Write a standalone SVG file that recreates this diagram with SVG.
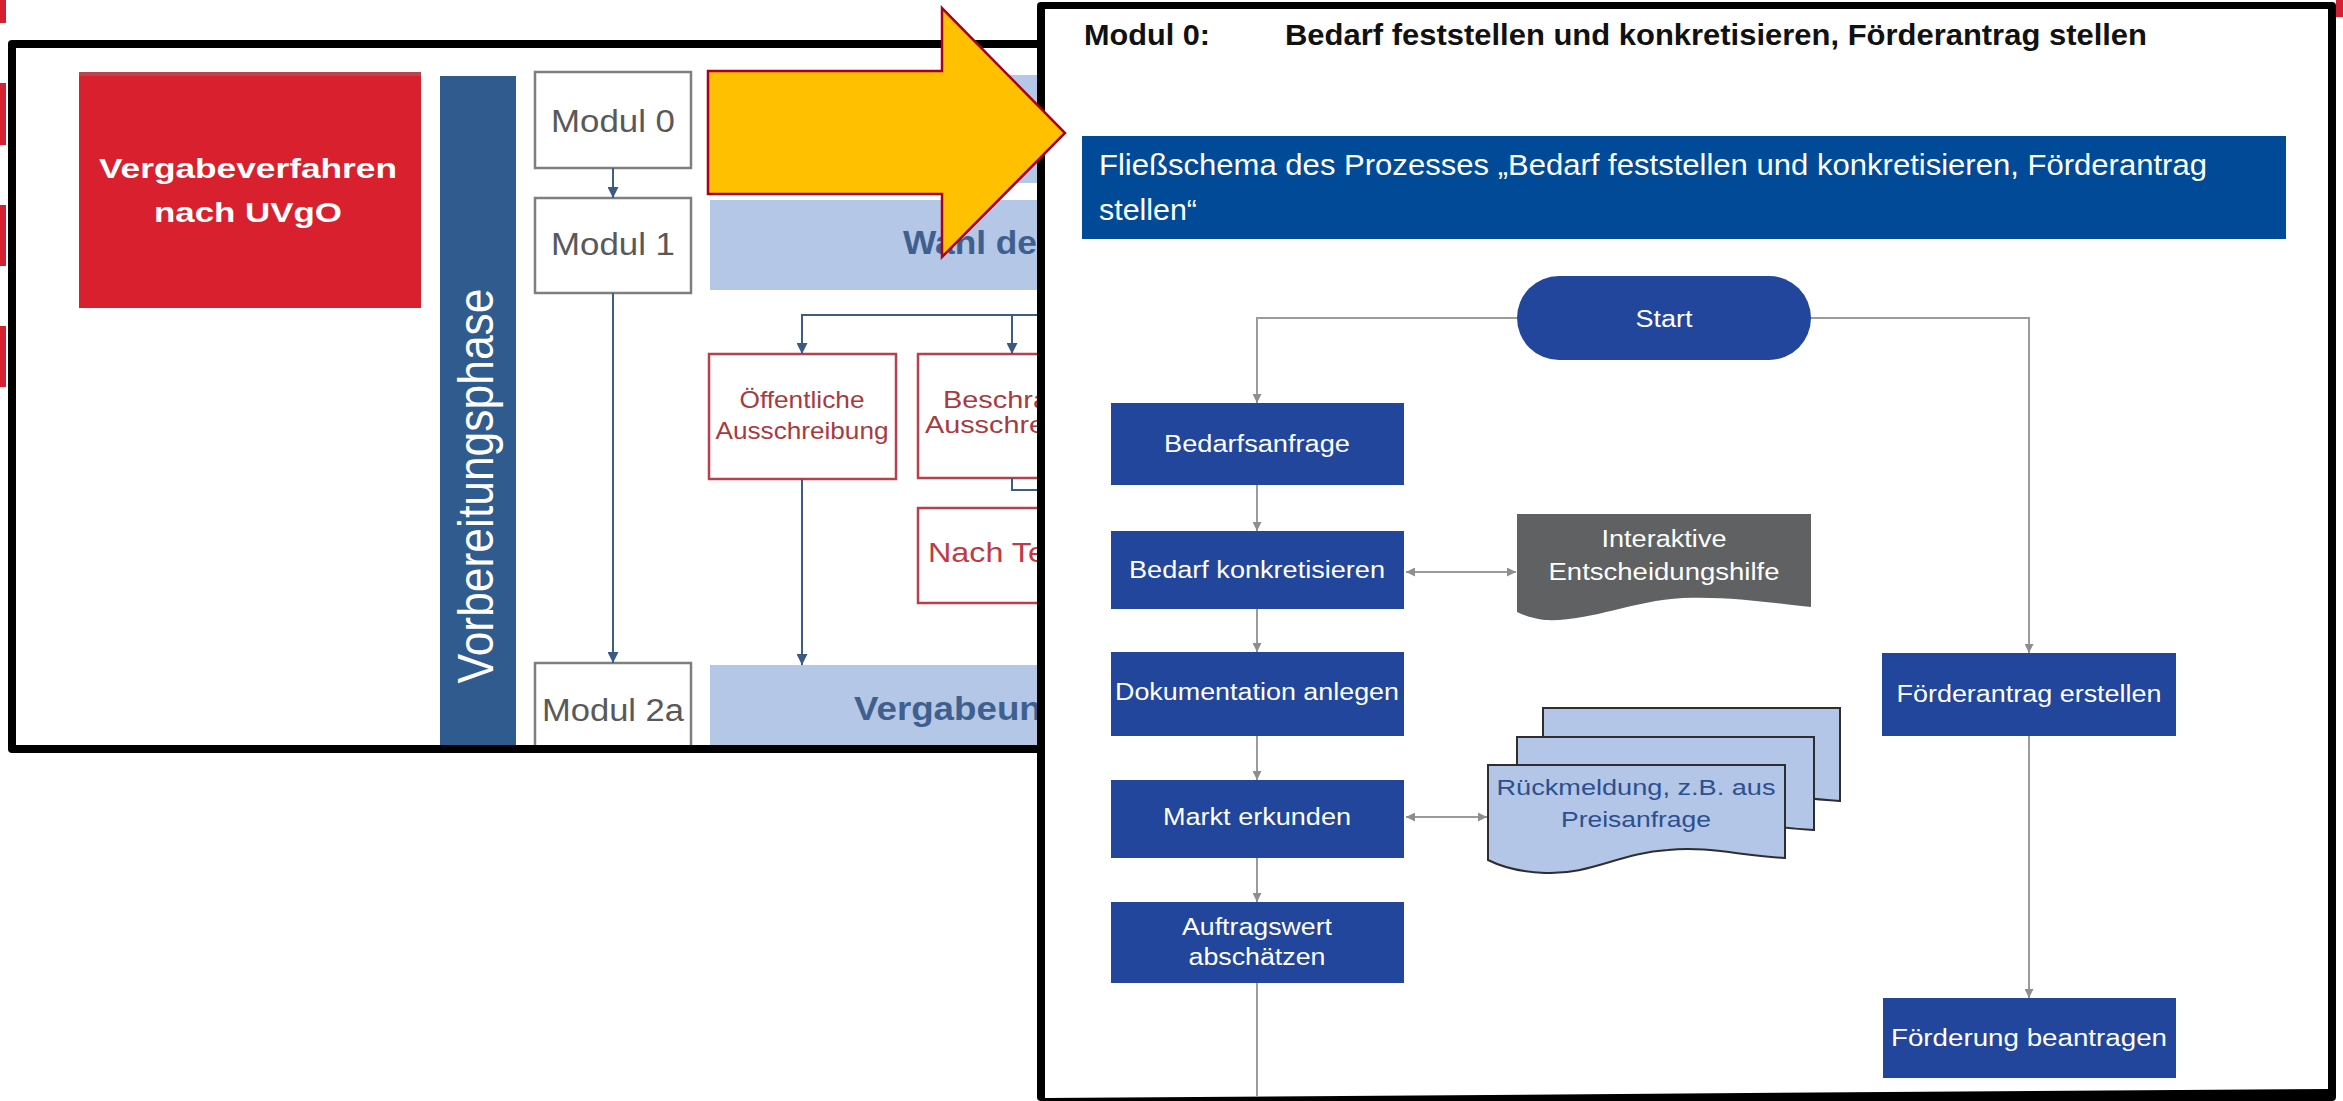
<svg xmlns="http://www.w3.org/2000/svg" width="2343" height="1101" viewBox="0 0 2343 1101">
  <style>
    text { font-family: "Liberation Sans", Arial, sans-serif; }
    .lbar { fill: #b4c7e7; }
    .modbox { fill: #ffffff; stroke: #7f7f7f; stroke-width: 2.5; }
    .modtxt { fill: #595959; font-size: 31px; text-anchor: middle; }
    .redbox { fill: #ffffff; stroke: #b8404c; stroke-width: 2.5; }
    .redtxt { fill: #a83a40; font-size: 24px; }
    .bartxt { fill: #3f5f8e; font-size: 33px; font-weight: bold; }
    .lconn { fill: none; stroke: #3e5d86; stroke-width: 2; }
    .box { fill: #21469b; }
    .wt { fill: #ffffff; font-size: 23px; text-anchor: middle; }
    .conn { fill: none; stroke: #9b9b9b; stroke-width: 2; }
    .sheet { fill: #b4c6e7; stroke: #2e2e2e; stroke-width: 2; }
    .btxt { fill: #2c4f8e; font-size: 22px; text-anchor: middle; }
    .edge { fill: #d42030; }
  </style>
  <defs>
    <marker id="ah-dark" viewBox="0 0 10 10" refX="10" refY="5" markerWidth="14" markerHeight="11" markerUnits="userSpaceOnUse" orient="auto">
      <path d="M0,0 L10,5 L0,10 Z" fill="#3a5a85"/>
    </marker>
    <marker id="ah-gray" viewBox="0 0 10 10" refX="10" refY="5" markerWidth="12" markerHeight="9" markerUnits="userSpaceOnUse" orient="auto-start-reverse">
      <path d="M0,0 L10,5 L0,10 Z" fill="#8e8e8e"/>
    </marker>
    <clipPath id="leftclip">
      <rect x="16" y="48" width="1021" height="697"/>
    </clipPath>
  </defs>

  <rect width="2343" height="1101" fill="#ffffff"/>

  <!-- red slide edges peeking out on the far left and top right -->
  <g id="slide-edges">
    <rect class="edge" x="0" y="0" width="6" height="23"/>
    <rect class="edge" x="0" y="83" width="6" height="62"/>
    <rect class="edge" x="0" y="205" width="6" height="61"/>
    <rect class="edge" x="0" y="326" width="6" height="61"/>
    <rect class="edge" x="2336" y="0" width="7" height="17"/>
  </g>

  <!-- left panel: procurement overview -->
  <g id="left-frame">
    <rect x="8" y="40" width="1040" height="713" rx="4" fill="#000000"/>
    <rect x="16" y="48" width="1030" height="697" fill="#ffffff"/>
  </g>

  <g clip-path="url(#leftclip)">
    <g id="node-vergabeverfahren">
      <rect x="79" y="72" width="342" height="236" fill="#d9202e"/>
      <rect x="79" y="72" width="342" height="4" fill="#b8444c"/>
      <text x="248" y="178" fill="#ffffff" font-size="28" font-weight="bold" text-anchor="middle" textLength="298" lengthAdjust="spacingAndGlyphs">Vergabeverfahren</text>
      <text x="248" y="222" fill="#ffffff" font-size="28" font-weight="bold" text-anchor="middle" textLength="188" lengthAdjust="spacingAndGlyphs">nach UVgO</text>
    </g>

    <g id="node-vorbereitungsphase">
      <rect x="440" y="76" width="76" height="670" fill="#2f5b8f"/>
      <text transform="translate(493,486) scale(1.2,1) rotate(-90)" x="0" y="0" fill="#ffffff" font-size="42" text-anchor="middle" textLength="395" lengthAdjust="spacingAndGlyphs">Vorbereitungsphase</text>
    </g>

    <g id="node-modul0">
      <rect class="modbox" x="535" y="72" width="156" height="96"/>
      <text class="modtxt" x="613" y="132" textLength="124" lengthAdjust="spacingAndGlyphs">Modul 0</text>
    </g>
    <g id="node-modul1">
      <rect class="modbox" x="535" y="198" width="156" height="95"/>
      <text class="modtxt" x="613" y="255" textLength="124" lengthAdjust="spacingAndGlyphs">Modul 1</text>
    </g>
    <g id="node-modul2a">
      <rect class="modbox" x="535" y="663" width="156" height="95"/>
      <text class="modtxt" x="613" y="721" textLength="142" lengthAdjust="spacingAndGlyphs">Modul 2a</text>
    </g>

    <g id="node-bar-top">
      <rect class="lbar" x="710" y="75" width="340" height="108"/>
    </g>
    <g id="node-wahl">
      <rect class="lbar" x="710" y="200" width="340" height="90"/>
      <text class="bartxt" x="903" y="254" textLength="134" lengthAdjust="spacingAndGlyphs">Wahl de</text>
    </g>
    <g id="node-vergabeunterlagen">
      <rect class="lbar" x="710" y="665" width="340" height="90"/>
      <text class="bartxt" x="854" y="720" font-size="34" textLength="200" lengthAdjust="spacingAndGlyphs">Vergabeunt</text>
    </g>

    <g id="node-oeffentliche">
      <rect class="redbox" x="709" y="354" width="187" height="125"/>
      <text class="redtxt" x="802" y="408" text-anchor="middle" textLength="125" lengthAdjust="spacingAndGlyphs">Öffentliche</text>
      <text class="redtxt" x="802" y="439" text-anchor="middle" textLength="173" lengthAdjust="spacingAndGlyphs">Ausschreibung</text>
    </g>
    <g id="node-beschraenkte">
      <rect class="redbox" x="918" y="354" width="187" height="124"/>
      <text class="redtxt" x="943" y="408" textLength="106" lengthAdjust="spacingAndGlyphs">Beschra</text>
      <text class="redtxt" x="925" y="433" textLength="120" lengthAdjust="spacingAndGlyphs">Ausschre</text>
    </g>
    <g id="node-nach-te">
      <rect class="redbox" x="918" y="508" width="187" height="95"/>
      <text x="928" y="562" fill="#c23a45" font-size="28" textLength="118" lengthAdjust="spacingAndGlyphs">Nach Te</text>
    </g>

    <g id="left-connectors">
      <path class="lconn" d="M613,168 V198" marker-end="url(#ah-dark)"/>
      <path class="lconn" d="M613,293 V663" marker-end="url(#ah-dark)"/>
      <path class="lconn" d="M1045,315 H802 V354" marker-end="url(#ah-dark)"/>
      <path class="lconn" d="M1012,315 V354" marker-end="url(#ah-dark)"/>
      <path class="lconn" d="M802,479 V665" marker-end="url(#ah-dark)"/>
      <path class="lconn" d="M1012,478 V490 H1045"/>
    </g>
  </g>

  <!-- right panel: module 0 flow chart -->
  <g id="right-frame">
    <rect x="1037" y="2" width="1299" height="1099" rx="4" fill="#000000"/>
    <polygon points="1045,9 2328,9 2328,1089 1045,1098" fill="#ffffff"/>
  </g>

  <g id="title">
    <text x="1084" y="45" fill="#111111" font-size="29" font-weight="bold" textLength="126" lengthAdjust="spacingAndGlyphs">Modul 0:</text>
    <text x="1285" y="45" fill="#111111" font-size="29" font-weight="bold" textLength="862" lengthAdjust="spacingAndGlyphs">Bedarf feststellen und konkretisieren, Förderantrag stellen</text>
  </g>

  <g id="banner">
    <rect x="1082" y="136" width="1204" height="103" fill="#004a98"/>
    <text x="1099" y="175" fill="#ffffff" font-size="29" textLength="1108" lengthAdjust="spacingAndGlyphs">Fließschema des Prozesses „Bedarf feststellen und konkretisieren, Förderantrag</text>
    <text x="1099" y="220" fill="#ffffff" font-size="29" textLength="98" lengthAdjust="spacingAndGlyphs">stellen“</text>
  </g>

  <g id="right-connectors">
    <path class="conn" d="M1517,318 H1257 V403" marker-end="url(#ah-gray)"/>
    <path class="conn" d="M1811,318 H2029 V653" marker-end="url(#ah-gray)"/>
    <path class="conn" d="M1257,485 V531" marker-end="url(#ah-gray)"/>
    <path class="conn" d="M1257,609 V652" marker-end="url(#ah-gray)"/>
    <path class="conn" d="M1257,736 V780" marker-end="url(#ah-gray)"/>
    <path class="conn" d="M1257,858 V902" marker-end="url(#ah-gray)"/>
    <path class="conn" d="M1257,983 V1097"/>
    <path class="conn" d="M2029,736 V998" marker-end="url(#ah-gray)"/>
    <path class="conn" d="M1406,572 H1516" marker-start="url(#ah-gray)" marker-end="url(#ah-gray)"/>
    <path class="conn" d="M1406,817 H1487" marker-start="url(#ah-gray)" marker-end="url(#ah-gray)"/>
  </g>

  <g id="node-start">
    <rect class="box" x="1517" y="276" width="294" height="84" rx="42" fill="#1f4494"/>
    <text class="wt" x="1664" y="327" textLength="57" lengthAdjust="spacingAndGlyphs">Start</text>
  </g>

  <g id="node-bedarfsanfrage">
    <rect class="box" x="1111" y="403" width="293" height="82"/>
    <text class="wt" x="1257" y="452" textLength="186" lengthAdjust="spacingAndGlyphs">Bedarfsanfrage</text>
  </g>

  <g id="node-bedarf-konkretisieren">
    <rect class="box" x="1111" y="531" width="293" height="78"/>
    <text class="wt" x="1257" y="578" textLength="256" lengthAdjust="spacingAndGlyphs">Bedarf konkretisieren</text>
  </g>

  <g id="node-entscheidungshilfe">
    <path d="M1517,514 H1811 V607 C1770,603 1730,596 1683,598 C1630,601 1590,622 1545,620 C1535,619 1525,616 1517,612 Z" fill="#5f6163"/>
    <text class="wt" x="1664" y="547" font-size="22" textLength="125" lengthAdjust="spacingAndGlyphs">Interaktive</text>
    <text class="wt" x="1664" y="580" font-size="22" textLength="231" lengthAdjust="spacingAndGlyphs">Entscheidungshilfe</text>
  </g>

  <g id="node-dokumentation">
    <rect class="box" x="1111" y="652" width="293" height="84"/>
    <text class="wt" x="1257" y="700" textLength="284" lengthAdjust="spacingAndGlyphs">Dokumentation anlegen</text>
  </g>

  <g id="node-markt">
    <rect class="box" x="1111" y="780" width="293" height="78"/>
    <text class="wt" x="1257" y="825" textLength="188" lengthAdjust="spacingAndGlyphs">Markt erkunden</text>
  </g>

  <g id="node-rueckmeldung">
    <path class="sheet" transform="translate(55,-57)" d="M1488,765 H1785 V858 C1740,856 1710,846 1668,850 C1620,853 1590,875 1545,873 C1520,872 1500,866 1488,860 Z"/>
    <path class="sheet" transform="translate(29,-28)" d="M1488,765 H1785 V858 C1740,856 1710,846 1668,850 C1620,853 1590,875 1545,873 C1520,872 1500,866 1488,860 Z"/>
    <path class="sheet" d="M1488,765 H1785 V858 C1740,856 1710,846 1668,850 C1620,853 1590,875 1545,873 C1520,872 1500,866 1488,860 Z"/>
    <text class="btxt" x="1636" y="795" textLength="279" lengthAdjust="spacingAndGlyphs">Rückmeldung, z.B. aus</text>
    <text class="btxt" x="1636" y="827" textLength="150" lengthAdjust="spacingAndGlyphs">Preisanfrage</text>
  </g>

  <g id="node-auftragswert">
    <rect class="box" x="1111" y="902" width="293" height="81"/>
    <text class="wt" x="1257" y="935" textLength="150" lengthAdjust="spacingAndGlyphs">Auftragswert</text>
    <text class="wt" x="1257" y="965" font-size="21" textLength="137" lengthAdjust="spacingAndGlyphs">abschätzen</text>
  </g>

  <g id="node-foerderantrag">
    <rect class="box" x="1882" y="653" width="294" height="83"/>
    <text class="wt" x="2029" y="702" textLength="265" lengthAdjust="spacingAndGlyphs">Förderantrag erstellen</text>
  </g>

  <g id="node-foerderung">
    <rect class="box" x="1883" y="998" width="293" height="80"/>
    <text class="wt" x="2029" y="1046" textLength="276" lengthAdjust="spacingAndGlyphs">Förderung beantragen</text>
  </g>

  <!-- block arrow pointing from the overview into the detail view -->
  <g id="pointer-arrow">
    <polygon points="708,71 942,71 942,8 1065,133 942,257 942,194 708,194" fill="#ffc000" stroke="#a8001e" stroke-width="2.5" stroke-linejoin="miter"/>
  </g>
</svg>
